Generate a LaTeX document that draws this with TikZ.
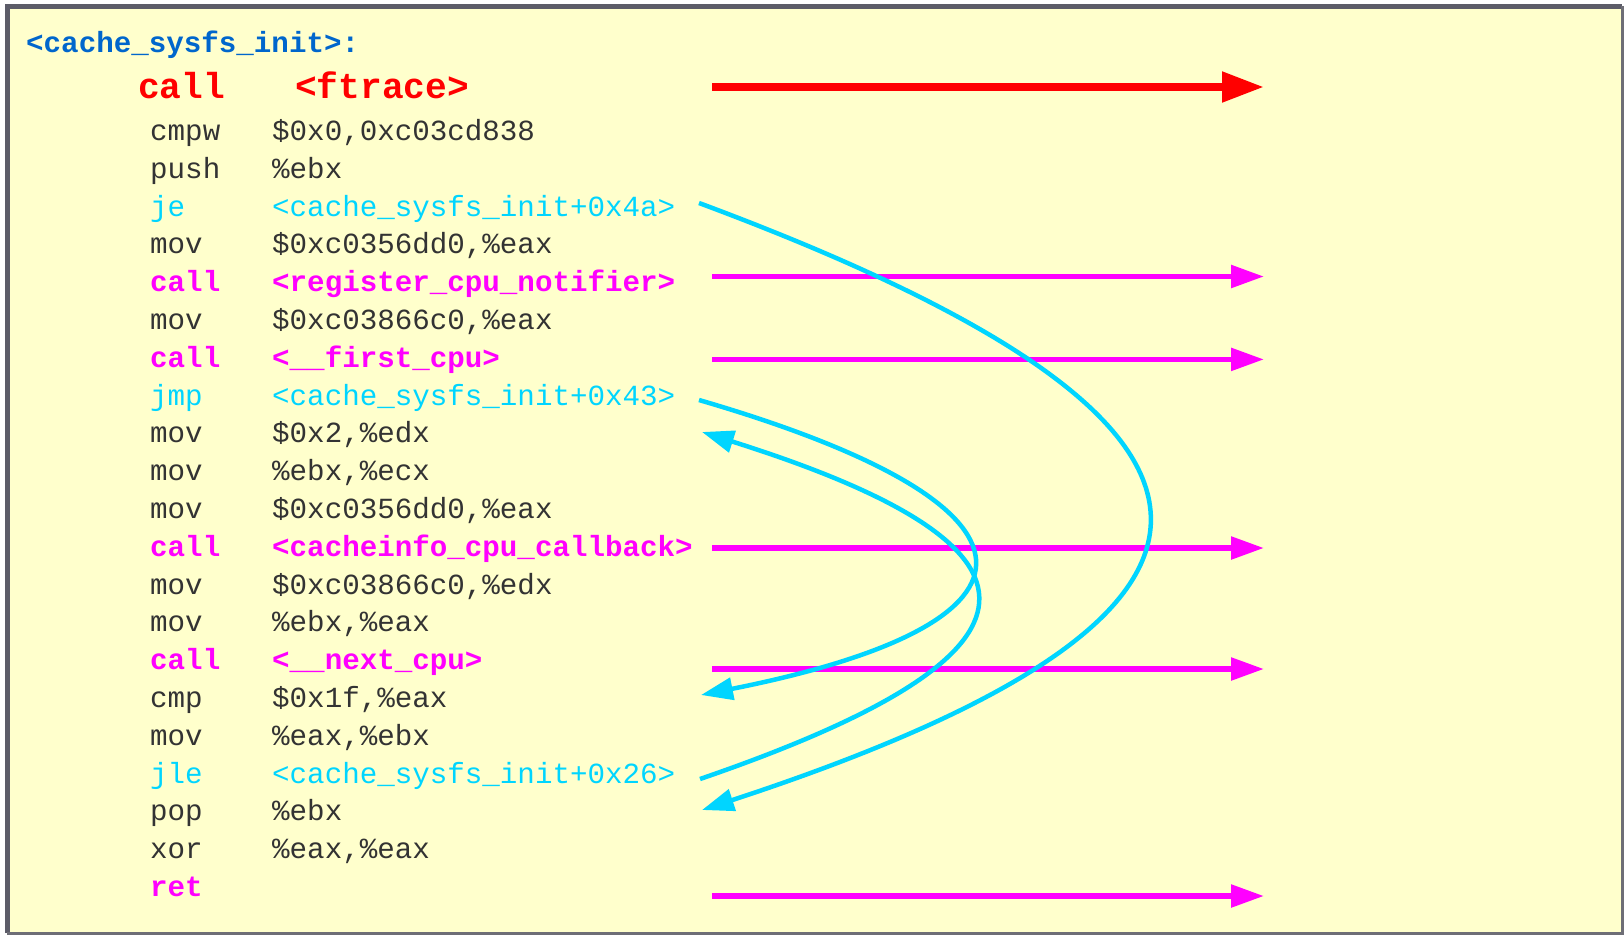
\documentclass[tikz,border=0pt]{standalone}
\usepackage{fontspec}
\setmonofont{Liberation Mono}
\usetikzlibrary{arrows.meta}
\definecolor{bgyellow}{HTML}{FFFFCC}
\definecolor{frameD}{HTML}{5C5C68}
\definecolor{frameL}{HTML}{6E6E76}
\definecolor{txtgray}{HTML}{333333}
\definecolor{tblue}{HTML}{0066CC}
\definecolor{jcyan}{HTML}{00D5FF}
\definecolor{cmag}{HTML}{FF00FF}
\definecolor{cred}{HTML}{FF0000}
\newcommand\cdfont{\fontsize{29.2}{35}\selectfont\ttfamily}
\newcommand\bigcdfont{\fontsize{36.2}{42}\selectfont\ttfamily\bfseries}
\begin{document}
\begin{tikzpicture}[x=1pt,y=-1pt,
  code/.style={anchor=base west,inner sep=0pt,font=\cdfont,text=txtgray},
  jumpst/.style={code,text=jcyan},
  callst/.style={code,text=cmag,font=\cdfont\bfseries},
  titlest/.style={code,text=tblue,font=\cdfont\bfseries},
  ftracest/.style={code,text=cred,font=\bigcdfont},
  magarrow/.style={draw=cmag,line width=5.5pt,-{Triangle[length=33pt,width=22pt]}},
  redarrow/.style={draw=cred,line width=8pt,-{Triangle[length=42pt,width=29pt]}},
  cyanarrow/.style={draw=jcyan,line width=4.5pt,-{Triangle[length=32pt,width=22pt]}}]
\useasboundingbox (0,0) rectangle (1624,935);
\fill[white] (0,0) rectangle (1624,935);
\fill[bgyellow] (7,6) rectangle (1622,933);
\draw[frameD,line width=5pt] (7,933) -- (7,6) -- (1622,6);
\draw[frameL,line width=3pt] (1622,6) -- (1622,933) -- (7,933);

\node[titlest] (title) at (26,52) {<cache\_sysfs\_init>:};
\node[ftracest] (fcall) at (138,98) {call};
\node[ftracest] (fop) at (295,98) {<ftrace>};

\node[code] (m0) at (150,140.5) {cmpw};
\node[code] (o0) at (272,140.5) {\$0x0,0xc03cd838};
\node[code] (m1) at (150,178.3) {push};
\node[code] (o1) at (272,178.3) {\%ebx};
\node[jumpst] (m2) at (150,216.1) {je};
\node[jumpst] (o2) at (272,216.1) {<cache\_sysfs\_init+0x4a>};
\node[code] (m3) at (150,253.9) {mov};
\node[code] (o3) at (272,253.9) {\$0xc0356dd0,\%eax};
\node[callst] (m4) at (150,291.7) {call};
\node[callst] (o4) at (272,291.7) {<register\_cpu\_notifier>};
\node[code] (m5) at (150,329.5) {mov};
\node[code] (o5) at (272,329.5) {\$0xc03866c0,\%eax};
\node[callst] (m6) at (150,367.3) {call};
\node[callst] (o6) at (272,367.3) {<\_\_first\_cpu>};
\node[jumpst] (m7) at (150,405.1) {jmp};
\node[jumpst] (o7) at (272,405.1) {<cache\_sysfs\_init+0x43>};
\node[code] (m8) at (150,442.9) {mov};
\node[code] (o8) at (272,442.9) {\$0x2,\%edx};
\node[code] (m9) at (150,480.7) {mov};
\node[code] (o9) at (272,480.7) {\%ebx,\%ecx};
\node[code] (m10) at (150,518.5) {mov};
\node[code] (o10) at (272,518.5) {\$0xc0356dd0,\%eax};
\node[callst] (m11) at (150,556.3) {call};
\node[callst] (o11) at (272,556.3) {<cacheinfo\_cpu\_callback>};
\node[code] (m12) at (150,594.1) {mov};
\node[code] (o12) at (272,594.1) {\$0xc03866c0,\%edx};
\node[code] (m13) at (150,631.9) {mov};
\node[code] (o13) at (272,631.9) {\%ebx,\%eax};
\node[callst] (m14) at (150,669.7) {call};
\node[callst] (o14) at (272,669.7) {<\_\_next\_cpu>};
\node[code] (m15) at (150,707.5) {cmp};
\node[code] (o15) at (272,707.5) {\$0x1f,\%eax};
\node[code] (m16) at (150,745.3) {mov};
\node[code] (o16) at (272,745.3) {\%eax,\%ebx};
\node[jumpst] (m17) at (150,783.1) {jle};
\node[jumpst] (o17) at (272,783.1) {<cache\_sysfs\_init+0x26>};
\node[code] (m18) at (150,820.9) {pop};
\node[code] (o18) at (272,820.9) {\%ebx};
\node[code] (m19) at (150,858.7) {xor};
\node[code] (o19) at (272,858.7) {\%eax,\%eax};
\node[callst] (m20) at (150,896.5) {ret};

% call arrows
\coordinate (fS) at (712,87);     \coordinate (fT) at (1264,87);
\coordinate (c4S) at (712,276.5); \coordinate (c4T) at (1264,276.5);
\coordinate (c6S) at (712,359.4); \coordinate (c6T) at (1264,359.4);
\coordinate (c11S) at (712,548);  \coordinate (c11T) at (1264,548);
\coordinate (c14S) at (712,669);  \coordinate (c14T) at (1264,669);
\coordinate (c20S) at (712,896);  \coordinate (c20T) at (1264,896);
\draw[redarrow] (fS) -- (fT);
\draw[magarrow] (c4S) -- (c4T);
\draw[magarrow] (c6S) -- (c6T);
\draw[magarrow] (c11S) -- (c11T);
\draw[magarrow] (c14S) -- (c14T);
\draw[magarrow] (c20S) -- (c20T);

% jump arrows
\coordinate (j2S) at (699,203);  \coordinate (j2T) at (702,810);
\coordinate (j7S) at (699,400);  \coordinate (j7T) at (701,695);
\coordinate (j17S) at (700,779); \coordinate (j17T) at (702,432);
\draw[cyanarrow] (j2S) .. controls (1296,425) and (1296,615) .. (j2T);
\draw[cyanarrow] (j7S) .. controls (1063,506) and (1063,623) .. (j7T);
\draw[cyanarrow] (j17S) .. controls (1067,653) and (1067,547) .. (j17T);
\end{tikzpicture}
\end{document}
